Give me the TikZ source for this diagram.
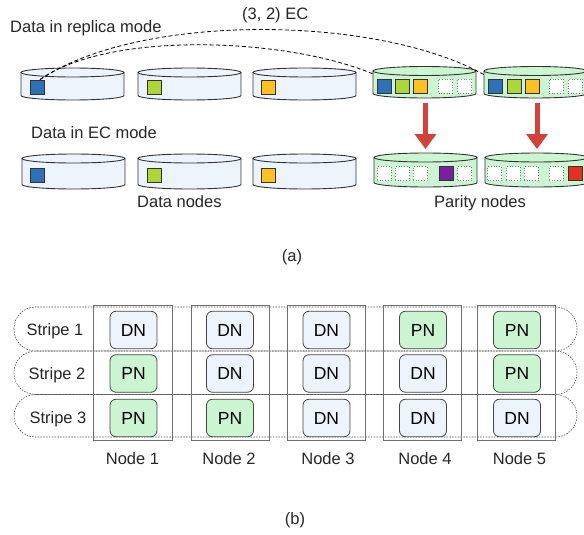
\documentclass[tikz,border=0pt]{standalone}
\usepackage{fontspec}
\setmainfont{Liberation Sans}
\usetikzlibrary{arrows.meta,calc}

\definecolor{diskfill}{HTML}{EEF4FC}
\definecolor{parfill}{HTML}{CCF5D2}
\definecolor{edgegray}{HTML}{333333}
\definecolor{cblue}{HTML}{3070B8}
\definecolor{cgreen}{HTML}{AED63A}
\definecolor{corange}{HTML}{FFC024}
\definecolor{cpurple}{HTML}{7A1FA0}
\definecolor{cred}{HTML}{E3301F}
\definecolor{arrowred}{HTML}{D1423B}
\definecolor{framegray}{HTML}{707070}
\definecolor{boxedge}{HTML}{454545}

% disk drawn as a flat cylinder: left x, top centre y, bottom centre y, width, fill
\newcommand\drawdisk[5]{%
  \fill[#5] (#1,#2) -- (#1,#3) arc[start angle=180,end angle=0,x radius=#4/2,y radius=4.5]
        -- (#1+#4,#2) -- cycle;
  \draw[diskline] (#1,#2) -- (#1,#3) arc[start angle=180,end angle=0,x radius=#4/2,y radius=4.5]
        -- (#1+#4,#2);
  \filldraw[diskline,fill=#5] (#1+#4/2,#2) ellipse[x radius=#4/2,y radius=4.5];
}

\tikzset{
  diskline/.style={draw=edgegray,line width=0.9pt},
  sq/.style={draw=edgegray,line width=0.8pt,minimum size=14pt,inner sep=0pt},
  emptysq/.style={draw=gray,dotted,line width=0.7pt,fill=white,minimum size=14pt,inner sep=0pt},
  lbl/.style={inner sep=0pt,font=\fontsize{16.5}{19}\selectfont,text=black!85},
  link/.style={draw=black,dash pattern=on 4pt off 2.5pt,line width=0.8pt},
  bigarrow/.style={draw=arrowred,line width=5pt,-{Triangle[width=21pt,length=15pt]}},
  stripe/.style={draw=black!65,dash pattern=on 1.6pt off 1.2pt,line width=0.6pt,rounded corners=21.5pt},
  column/.style={draw=framegray,line width=0.9pt},
  unit/.style={draw=boxedge,line width=0.8pt,rounded corners=6pt,minimum width=47pt,minimum height=37.5pt,
    inner sep=0pt,font=\fontsize{17.5}{19}\selectfont},
  dn/.style={unit,fill=diskfill},
  pn/.style={unit,fill=parfill},
}

\begin{document}
\begin{tikzpicture}[x=1pt,y=-1pt]
\useasboundingbox (0,0) rectangle (584,535);

% ---------- (a) replica mode ----------
\drawdisk{21}{72.5}{95.5}{103}{diskfill}
\drawdisk{138}{72.5}{95.5}{103}{diskfill}
\drawdisk{253}{72.5}{95.5}{103}{diskfill}
\drawdisk{373}{71}{93.5}{103}{parfill}
\drawdisk{484}{71}{93.5}{103}{parfill}

\node[sq,fill=cblue]   (ra) at (37,87) {};
\node[sq,fill=cgreen]  (rb) at (154,87) {};
\node[sq,fill=corange] (rc) at (268.5,87) {};

\node[sq,fill=cblue]   (pa1) at (384,86) {};
\node[sq,fill=cgreen]  (pb1) at (402.5,86) {};
\node[sq,fill=corange] (pc1) at (420,86) {};
\node[emptysq]         (pd1) at (445.5,86) {};
\node[emptysq]         (pe1) at (464.5,86) {};

\node[sq,fill=cblue]   (pa2) at (495,86) {};
\node[sq,fill=cgreen]  (pb2) at (514,86) {};
\node[sq,fill=corange] (pc2) at (532,86) {};
\node[emptysq]         (pd2) at (556,86) {};
\node[emptysq]         (pe2) at (575,86) {};

% replica links to the two parity disks
\coordinate (src) at ($(ra.north)+(3,0)$);
\coordinate (dst1) at ($(pa1.north west)+(-2,-4)$);
\coordinate (dst2) at ($(pa2.north west)+(-2,-3)$);
\draw[link] (src) .. controls (110,30) and (290,38) .. (dst1);
\draw[link] (src) .. controls (140,12) and (380,15) .. (dst2);

\node[lbl,anchor=base west] (replica) at (10,33) {Data in replica mode};
\node[lbl,anchor=base west] (code) at (242,20) {(3, 2) EC};

% encoding arrows
\coordinate (ar1s) at (425.5,103);
\coordinate (ar1e) at (425.5,149);
\coordinate (ar2s) at (537,103);
\coordinate (ar2e) at (537,149);
\draw[bigarrow] (ar1s) -- (ar1e);
\draw[bigarrow] (ar2s) -- (ar2e);

% ---------- (a) EC mode ----------
\drawdisk{22}{158.5}{184.5}{103}{diskfill}
\drawdisk{138}{158.5}{184.5}{103}{diskfill}
\drawdisk{253}{158.5}{184.5}{103}{diskfill}
\drawdisk{374}{157.5}{182.5}{103}{parfill}
\drawdisk{485}{157.5}{182.5}{103}{parfill}

\node[sq,fill=cblue]   (ea) at (37.5,175) {};
\node[sq,fill=cgreen]  (eb) at (154,175) {};
\node[sq,fill=corange] (ec) at (268.5,175) {};

\node[emptysq]         (qa1) at (384,173.5) {};
\node[emptysq]         (qb1) at (402,173.5) {};
\node[emptysq]         (qc1) at (420,173.5) {};
\node[sq,fill=cpurple] (qd1) at (446,173.5) {};
\node[emptysq]         (qe1) at (464.5,173.5) {};

\node[emptysq]         (qa2) at (494.5,173.5) {};
\node[emptysq]         (qb2) at (513,173.5) {};
\node[emptysq]         (qc2) at (531,173.5) {};
\node[emptysq]         (qd2) at (556,173.5) {};
\node[sq,fill=cred]    (qe2) at (575,173.5) {};

\node[lbl,anchor=base west] (ecmode) at (31,139) {Data in EC mode};
\node[lbl,anchor=base west] (datanodes) at (137,207.5) {Data nodes};
\node[lbl,anchor=base west] (paritynodes) at (434,207) {Parity nodes};
\node[lbl] (capa) at (292,257) {(a)};

% ---------- (b) stripes over nodes ----------
\draw[stripe] (14,307) rectangle (577,351);
\draw[stripe] (14,351) rectangle (577,394.5);
\draw[stripe] (14,394.5) rectangle (577,437);

\draw[column] (93,305) rectangle (172,440);
\draw[column] (191,305) rectangle (269,440);
\draw[column] (287,305) rectangle (365,440);
\draw[column] (383,305) rectangle (461,440);
\draw[column] (477,305) rectangle (555,440);

\node[lbl,anchor=base] (s1) at (55,335) {Stripe 1};
\node[lbl,anchor=base] (s2) at (57,379) {Stripe 2};
\node[lbl,anchor=base] (s3) at (58,423) {Stripe 3};

% row 1
\node[dn] (u11) at (133.5,330) {DN};
\node[dn] (u12) at (230,330) {DN};
\node[dn] (u13) at (326.5,330) {DN};
\node[pn] (u14) at (423,330) {PN};
\node[pn] (u15) at (517,330) {PN};
% row 2
\node[pn] (u21) at (133.5,373.5) {PN};
\node[dn] (u22) at (230,373.5) {DN};
\node[dn] (u23) at (326.5,373.5) {DN};
\node[dn] (u24) at (423,373.5) {DN};
\node[pn] (u25) at (517,373.5) {PN};
% row 3
\node[pn] (u31) at (133.5,418) {PN};
\node[pn] (u32) at (230,418) {PN};
\node[dn] (u33) at (326.5,418) {DN};
\node[dn] (u34) at (423,418) {DN};
\node[dn] (u35) at (517,418) {DN};

\node[lbl,anchor=base] (n1) at (132.5,464) {Node 1};
\node[lbl,anchor=base] (n2) at (229,464) {Node 2};
\node[lbl,anchor=base] (n3) at (328,464) {Node 3};
\node[lbl,anchor=base] (n4) at (425,464) {Node 4};
\node[lbl,anchor=base] (n5) at (519.5,464) {Node 5};

\node[lbl] (capb) at (295,520) {(b)};
\end{tikzpicture}
\end{document}
